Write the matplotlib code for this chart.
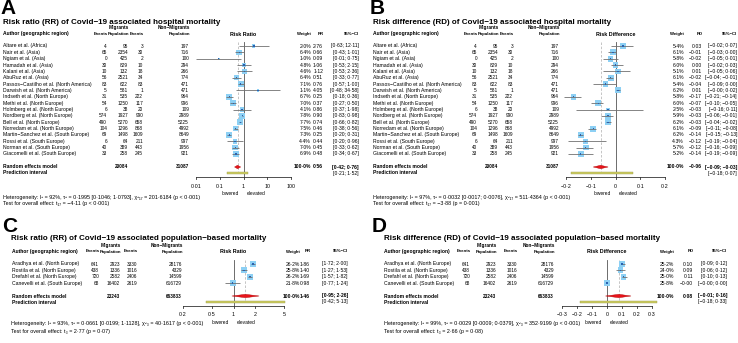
import matplotlib
matplotlib.use('Agg')
import numpy as np
import matplotlib.pyplot as plt
from matplotlib.patches import Polygon, Rectangle

plt.rcParams['font.family'] = ['Liberation Sans', 'DejaVu Sans']

W, H = 738, 343

# ---- hospital mortality (panels A and B) ----
hosp_studies = ["Altare et al. (Africa)", "Nair et al. (Asia)", "Ngiam et al. (Asia)",
                "Hamadah et al. (Asia)", "Kalani et al. (Asia)", "AbuRuz et al. (Asia)",
                "Passos\u2212Castilho et al. (North America)", "Darwish et al. (North America)",
                "Indseth et al. (North Europe)", "Methi et al. (North Europe)",
                "Holmberg et al. (North Europe)", "Nordberg et al. (North Europe)",
                "Bell et al. (North Europe)", "Norredam et al. (North Europe)",
                "Martin\u2212Sanchez et al. (South Europe)", "Rossi et al. (South Europe)",
                "Norman et al. (South Europe)", "Giacomelli et al. (South Europe)"]
hosp_mig_events = [4, 65, 0, 30, 10, 56, 83, 5, 31, 54, 6, 574, 490, 104, 69, 6, 40, 33]
hosp_mig_pop = [95, 2354, 425, 829, 132, 2521, 622, 581, 535, 1250, 38, 1927, 5270, 1296, 1498, 64, 389, 258]
hosp_non_events = [3, 30, 2, 10, 18, 34, 83, 1, 222, 117, 20, 990, 658, 868, 1609, 211, 443, 245]
hosp_non_pop = [197, 716, 100, 294, 266, 774, 471, 471, 964, 996, 109, 2989, 5225, 4992, 8649, 997, 1956, 921]
hosp_totals = [20084, 31087]

hosp_rr = [2.76, 0.66, 0.09, 1.06, 1.12, 0.51, 0.76, 4.05, 0.25, 0.37, 0.86, 0.90, 0.74, 0.46, 0.25, 0.44, 0.45, 0.48]
hosp_rr_lo = [0.63, 0.43, 0.01, 0.53, 0.53, 0.33, 0.57, 0.48, 0.18, 0.27, 0.37, 0.83, 0.66, 0.38, 0.20, 0.20, 0.33, 0.34]
hosp_rr_hi = [12.11, 1.01, 0.75, 2.15, 2.36, 0.77, 1.00, 34.58, 0.36, 0.50, 1.98, 0.98, 0.82, 0.56, 0.31, 0.96, 0.62, 0.67]
hosp_rr_w = [2.0, 6.4, 1.0, 4.8, 4.6, 6.4, 7.1, 1.1, 6.7, 7.0, 4.1, 7.8, 7.7, 7.5, 7.3, 4.4, 7.0, 6.9]
hosp_rr_pooled = [0.56, 0.42, 0.76]
hosp_rr_pi = [0.21, 1.52]

hosp_rd = [0.03, -0.01, -0.02, 0.00, 0.01, -0.02, -0.04, 0.01, -0.17, -0.07, -0.03, -0.03, -0.03, -0.09, -0.14, -0.12, -0.12, -0.14]
hosp_rd_lo = [-0.02, -0.03, -0.05, -0.02, -0.05, -0.04, -0.09, -0.0, -0.21, -0.10, -0.16, -0.06, -0.04, -0.11, -0.15, -0.19, -0.16, -0.19]
hosp_rd_hi = [0.07, 0.00, 0.01, 0.03, 0.06, -0.01, 0.00, 0.02, -0.14, -0.05, 0.11, -0.01, -0.02, -0.08, -0.13, -0.04, -0.09, -0.09]
hosp_rd_w = [5.4, 6.1, 5.8, 6.0, 5.1, 6.1, 5.4, 6.2, 5.8, 6.0, 2.5, 5.9, 6.2, 6.1, 6.2, 4.3, 5.7, 5.2]
hosp_rd_pooled = [-0.06, -0.09, -0.03]
hosp_rd_pi = [-0.18, 0.07]

# ---- population-based mortality (panels C and D) ----
pop_studies = ["Aradhya et al. (North Europe)", "Rostila et al. (North Europe)",
               "Drefahl et al. (North Europe)", "Canevelli et al. (South Europe)"]
pop_mig_events = [641, 438, 720, 68]
pop_mig_pop = [2923, 1336, 2582, 16402]
pop_non_events = [3330, 1016, 2406, 2619]
pop_non_pop = [28176, 4329, 14599, 616729]
pop_totals = [23243, 663833]

pop_rr = [1.86, 1.40, 1.69, 0.98]
pop_rr_lo = [1.72, 1.27, 1.57, 0.77]
pop_rr_hi = [2.00, 1.53, 1.82, 1.24]
pop_rr_w = [26.2, 25.8, 26.2, 21.8]
pop_rr_pooled = [1.46, 0.95, 2.26]
pop_rr_pi = [0.42, 5.13]

pop_rd = [0.10, 0.09, 0.11, -0.0]
pop_rd_lo = [0.09, 0.06, 0.10, -0.0]
pop_rd_hi = [0.12, 0.12, 0.13, 0.00]
pop_rd_w = [25.2, 24.0, 25.0, 25.8]
pop_rd_pooled = [0.08, -0.01, 0.16]
pop_rd_pi = [-0.18, 0.33]

rr_ticks_a = [0.01, 0.1, 1, 10, 100]
rd_ticks_b = [-0.2, -0.1, 0, 0.1, 0.2]
rr_ticks_c = [0.2, 0.5, 1, 2, 5]
rd_ticks_d = [-0.3, -0.2, -0.1, 0, 0.1, 0.2, 0.3]

het_a = "Heterogeneity: I² = 92%, τ² = 0·1995 [0·1046; 1·0793], χ²₁₇ = 201·6184 (p < 0·001)"
test_a = "Test for overall effect: t₁₇ = −4·11 (p < 0·001)"
het_b = "Heterogeneity: I² = 97%, τ² = 0·0032 [0·0017; 0·0076], χ²₁₇ = 511·4364 (p < 0·001)"
test_b = "Test for overall effect: t₁₇ = −3·88 (p = 0·001)"
het_c = "Heterogeneity: I² = 93%, τ² = 0·0661 [0·0199; 1·1128], χ²₃ = 40·1617 (p < 0·001)"
test_c = "Test for overall effect: t₃ = 2·77 (p = 0·07)"
het_d = "Heterogeneity: I² = 99%, τ² = 0·0029 [0·0009; 0·0379], χ²₃ = 352·9199 (p < 0·001)"
test_d = "Test for overall effect: t₃ = 2·66 (p = 0·08)"

FS_LAB = 3.7    # study labels
FS_NUM = 3.4    # counts
FS_COLH = 3.1   # column headings
FS_VAL = 3.6    # weight / estimate / CI
FS_TICK = 3.8
FS_HET = 3.9
SQ_BLUE = '#8dd0f4'
DOT_BLUE = '#2a62b0'


def num(v, nd=2):
    s = f"{v:.{nd}f}".replace('.', '\u00b7')
    return s.replace('-', '\u2212')


def tick_text(v):
    s = f"{v:g}".replace('.', '\u00b7')
    return s.replace('-', '\u2212')


def panel(fig, tx, L):
    # letter and title
    tx.text(L['letter_x'], L['letter_y'], L['letter'], fontsize=15, fontweight='bold', va='center', ha='left')
    tx.text(L['title_x'], L['title_y'], L['title'], fontsize=5.75, fontweight='bold', va='center', ha='left')
    # headers
    hy = L['head_y']
    tx.text(L['cols'][1] + 1, L['group_y'], 'Migrants', fontsize=3.4, fontweight='bold', ha='right', va='center')
    tx.text(L['cols'][3] + 1, L['group_y'], 'Non\u2212Migrants', fontsize=3.4, fontweight='bold', ha='right', va='center')
    tx.text(L['author_x'], hy, 'Author (geographic region)', fontsize=3.6, fontweight='bold', ha='left', va='center')
    for cx, lab in zip(L['cols'], ['Events', 'Population', 'Events', 'Population']):
        tx.text(cx + 1, hy, lab, fontsize=FS_COLH, fontweight='bold', ha='right', va='center')
    tx.text((L['px0'] + L['px1']) / 2, hy, L['plot_head'], fontsize=3.9, fontweight='bold', ha='center', va='center')
    tx.text(L['w_x'], hy, 'Weight', fontsize=FS_COLH, fontweight='bold', ha='right', va='center')
    tx.text(L['e_x'] + 1, hy, L['eff'], fontsize=FS_COLH, fontweight='bold', ha='right', va='center')
    tx.text(L['ci_x'], hy, '95%\u2212CI', fontsize=FS_COLH, fontweight='bold', ha='right', va='center')

    ys = [L['y0'] + i * L['dy'] for i in range(len(L['studies']))]
    for i, y in enumerate(ys):
        tx.text(L['author_x'], y, L['studies'][i], fontsize=FS_LAB, ha='left', va='center')
        for cx, arr in zip(L['cols'], L['counts']):
            tx.text(cx, y, str(arr[i]), fontsize=FS_NUM, ha='right', va='center')
        tx.text(L['w_x'], y, num(L['w'][i], 1) + '%', fontsize=FS_VAL, ha='right', va='center')
        tx.text(L['e_x'], y, num(L['est'][i]), fontsize=FS_VAL, ha='right', va='center')
        tx.text(L['ci_x'], y, '[' + num(L['lo'][i]) + '; ' + num(L['hi'][i]) + ']', fontsize=FS_VAL, ha='right', va='center')

    ry, py = L['pool_y'], L['pi_y']
    tx.text(L['author_x'], ry, 'Random effects model', fontsize=3.6, fontweight='bold', ha='left', va='center')
    tx.text(L['author_x'], py, 'Prediction interval', fontsize=3.6, fontweight='bold', ha='left', va='center')
    tx.text(L['cols'][1], ry, str(L['totals'][0]), fontsize=FS_NUM, fontweight='bold', ha='right', va='center')
    tx.text(L['cols'][3], ry, str(L['totals'][1]), fontsize=FS_NUM, fontweight='bold', ha='right', va='center')
    pe, plo, phi = L['pooled']
    tx.text(L['w_x'], ry, '100\u00b70%', fontsize=FS_VAL, fontweight='bold', ha='right', va='center')
    tx.text(L['e_x'], ry, num(pe), fontsize=FS_VAL, fontweight='bold', ha='right', va='center')
    tx.text(L['ci_x'], ry, '[' + num(plo) + '; ' + num(phi) + ']', fontsize=FS_VAL, fontweight='bold', ha='right', va='center')
    tx.text(L['ci_x'], py, '[' + num(L['pi'][0]) + '; ' + num(L['pi'][1]) + ']', fontsize=FS_VAL, ha='right', va='center')

    tx.text(L['het_x'], L['het_y'], L['het'], fontsize=FS_HET, ha='left', va='center')
    tx.text(L['het_x'], L['het_y'] + 7, L['test'], fontsize=FS_HET, ha='left', va='center')

    # forest area
    ax = fig.add_axes([L['px0'] / W, 0, (L['px1'] - L['px0']) / W, 1])
    if L['log']:
        ax.set_xscale('log')
    ax.set_xlim(L['ticks'][0], L['ticks'][-1])
    ax.set_ylim(H, 0)
    ax.axis('off')
    null = 1 if L['log'] else 0
    top = ys[0] - 4
    ax.plot([null, null], [top, L['axis_y']], color='#555555', lw=0.6, clip_on=False)
    ax.plot([pe, pe], [top, py], color='#bbbbbb', lw=0.6, ls=(0, (3, 2)), clip_on=False)

    wmax = max(L['w'])
    sizes = [(6.0 * 0.72) ** 2 * w / wmax for w in L['w']]
    ax.scatter(L['est'], ys, s=sizes, marker='s', color=SQ_BLUE, edgecolors='none', zorder=2, clip_on=False)
    ax.hlines(ys, L['lo'], L['hi'], color='#707070', lw=0.6, zorder=3, clip_on=False)
    ax.scatter(L['est'], ys, s=0.8, marker='s', color=DOT_BLUE, edgecolors='none', zorder=4, clip_on=False)

    dh = 1.7
    ax.add_patch(Polygon([(plo, ry), (pe, ry - dh), (phi, ry), (pe, ry + dh)], closed=True,
                         facecolor='#e8141b', edgecolor='#b00000', lw=0.3, zorder=4, clip_on=False))
    ax.add_patch(Rectangle((L['pi'][0], py - 0.9), L['pi'][1] - L['pi'][0], 1.8,
                           facecolor='#cdcd60', edgecolor='#9a9a50', lw=0.3, zorder=4, clip_on=False))

    ay = L['axis_y']
    ax.plot([L['ticks'][0], L['ticks'][-1]], [ay, ay], color='#333333', lw=0.6, clip_on=False)
    for t in L['ticks']:
        ax.plot([t, t], [ay, ay + 2], color='#333333', lw=0.6, clip_on=False)
        ax.text(t, L['tick_y'], tick_text(t), fontsize=FS_TICK, ha='center', va='center')

    if L['log']:
        frac = (np.log10(null) - np.log10(L['ticks'][0])) / (np.log10(L['ticks'][-1]) - np.log10(L['ticks'][0]))
    else:
        frac = (null - L['ticks'][0]) / (L['ticks'][-1] - L['ticks'][0])
    npx = L['px0'] + (L['px1'] - L['px0']) * frac
    tx.text(npx - 5, L['low_y'], 'lowered', fontsize=3.5, ha='right', va='center')
    tx.text(npx + 3, L['low_y'], 'elevated', fontsize=3.5, ha='left', va='center')


fig = plt.figure(figsize=(W / 100, H / 100), dpi=100)
tx = fig.add_axes([0, 0, 1, 1])
tx.set_xlim(0, W)
tx.set_ylim(H, 0)
tx.axis('off')

hosp_counts = [hosp_mig_events, hosp_mig_pop, hosp_non_events, hosp_non_pop]
pop_counts = [pop_mig_events, pop_mig_pop, pop_non_events, pop_non_pop]

top_rows = dict(y0=46, dy=6.35, pool_y=167, pi_y=173, axis_y=177, tick_y=187, low_y=193.5,
                het_y=197, title_y=23, group_y=28, head_y=34, letter_y=9)
bot_rows = dict(y0=264, dy=6.35, pool_y=296, pi_y=302, axis_y=306, tick_y=315, low_y=322,
                het_y=324, title_y=238.5, group_y=245, head_y=251.5, letter_y=226)

A = dict(top_rows, letter='A', letter_x=0, title_x=3,
         title='Risk ratio (RR) of Covid\u221219 associated hospital mortality',
         author_x=3, cols=[107, 128, 143, 189], px0=196, px1=291, plot_head='Risk Ratio',
         w_x=311, e_x=323, ci_x=359, eff='RR', studies=hosp_studies, counts=hosp_counts,
         est=hosp_rr, lo=hosp_rr_lo, hi=hosp_rr_hi, w=hosp_rr_w, pooled=hosp_rr_pooled,
         pi=hosp_rr_pi, totals=hosp_totals, het=het_a, test=test_a, het_x=3,
         ticks=rr_ticks_a, log=True)
B = dict(top_rows, letter='B', letter_x=370, title_x=373,
         title='Risk difference (RD) of Covid\u221219 associated hospital mortality',
         author_x=373, cols=[477, 498, 513, 559], px0=566, px1=665, plot_head='Risk Difference',
         w_x=684, e_x=702, ci_x=737, eff='RD', studies=hosp_studies, counts=hosp_counts,
         est=hosp_rd, lo=hosp_rd_lo, hi=hosp_rd_hi, w=hosp_rd_w, pooled=hosp_rd_pooled,
         pi=hosp_rd_pi, totals=hosp_totals, het=het_b, test=test_b, het_x=373,
         ticks=rd_ticks_b, log=False)
C = dict(bot_rows, letter='C', letter_x=2, title_x=11,
         title='Risk ratio (RR) of Covid\u221219 associated population\u2212based mortality',
         author_x=12, cols=[99, 120, 137, 182], px0=183, px1=284, plot_head='Risk Ratio',
         w_x=300, e_x=310, ci_x=348, eff='RR', studies=pop_studies, counts=pop_counts,
         est=pop_rr, lo=pop_rr_lo, hi=pop_rr_hi, w=pop_rr_w, pooled=pop_rr_pooled,
         pi=pop_rr_pi, totals=pop_totals, het=het_c, test=test_c, het_x=11,
         ticks=rr_ticks_c, log=True)
D = dict(bot_rows, letter='D', letter_x=372, title_x=384,
         title='Risk difference (RD) of Covid\u221219 associated population\u2212based mortality',
         author_x=384, cols=[470, 496, 517, 554], px0=562, px1=652, plot_head='Risk Difference',
         w_x=674, e_x=693, ci_x=727, eff='RD', studies=pop_studies, counts=pop_counts,
         est=pop_rd, lo=pop_rd_lo, hi=pop_rd_hi, w=pop_rd_w, pooled=pop_rd_pooled,
         pi=pop_rd_pi, totals=pop_totals, het=het_d, test=test_d, het_x=384,
         ticks=rd_ticks_d, log=False)

for L in (A, B, C, D):
    panel(fig, tx, L)

fig.savefig('out.png', dpi=100, facecolor='white')
